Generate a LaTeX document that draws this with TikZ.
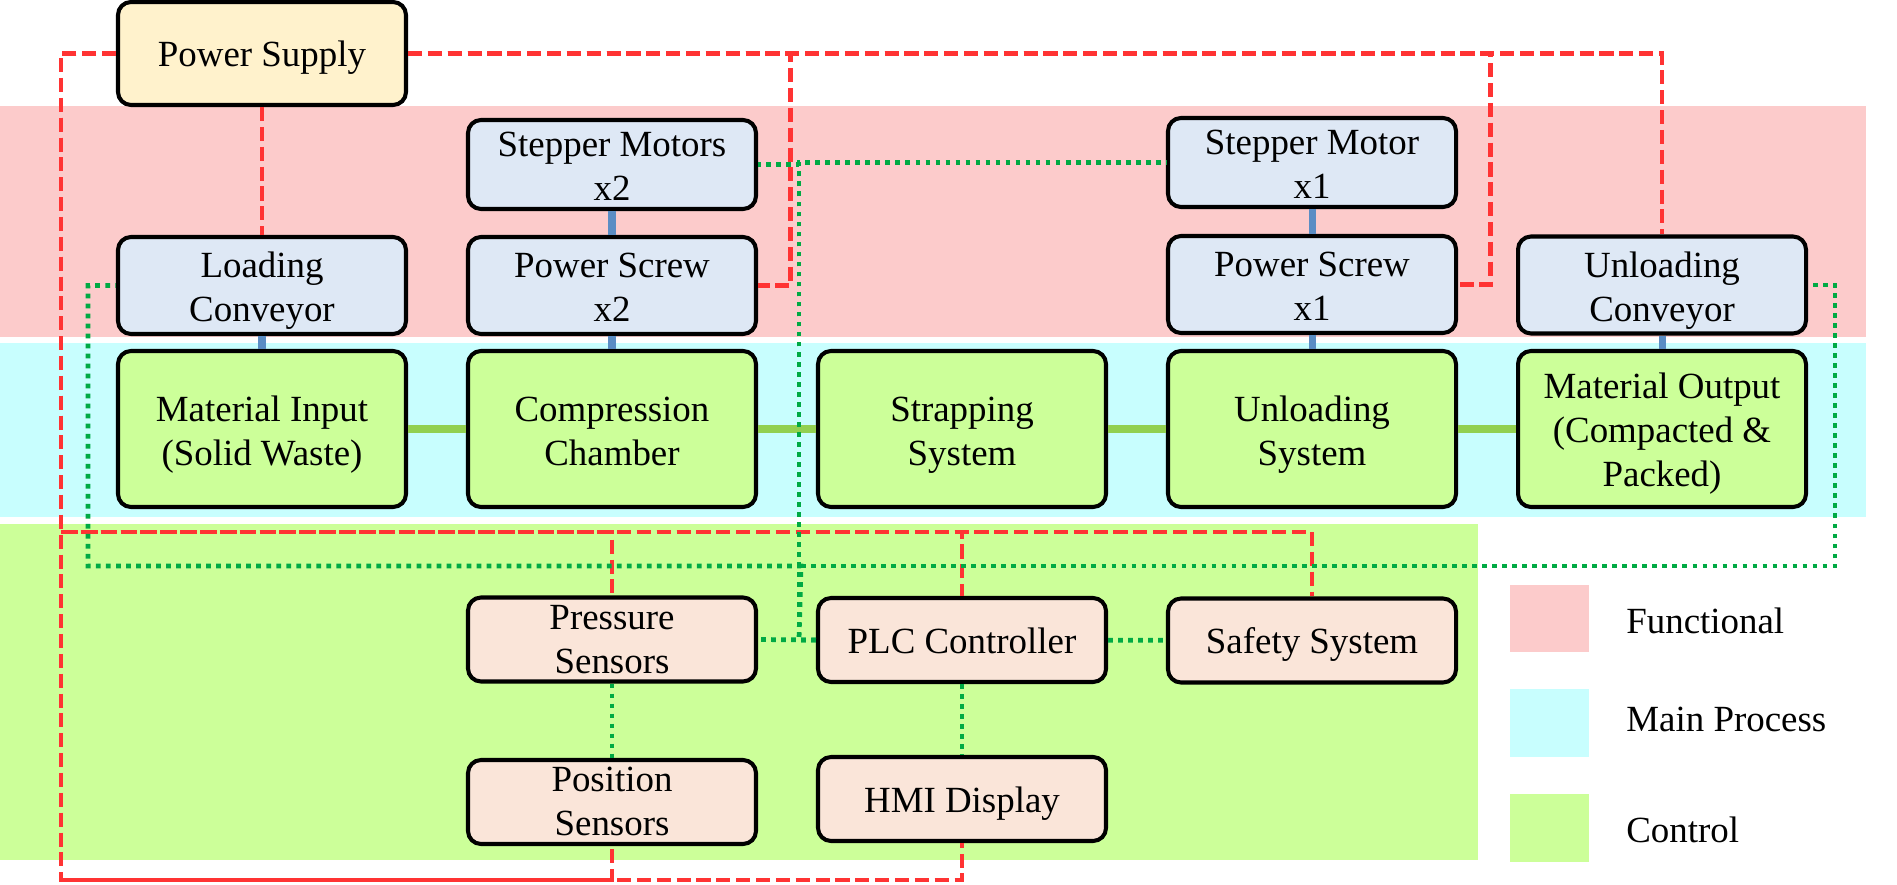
\documentclass[tikz,border=0pt]{standalone}
\usepackage{fontspec}
\setmainfont{Liberation Serif}
\usepackage{tikz}

\begin{document}
\begin{tikzpicture}
	[line cap=round,
	%Styles
	box/.style={rounded corners=0.26cm,draw=black,line width=2.3pt,align=center,inner sep=0pt,
		minimum width=5.76cm,font=\fontsize{21}{25}\selectfont,
		execute at begin node={\rule{0pt}{0.70cm}},
		execute at end node={\rule[-0.17cm]{0pt}{0pt}}},
	lines/.style={execute at begin node={\rule{0pt}{#1}}},
	lines/.default=1.61cm,
	supply box/.style={box,fill=supplyfill,minimum height=2.06cm},
	func box/.style={box,lines,fill=funcfill,minimum height=#1},
	main box/.style={box,lines,fill=mainfill,minimum height=3.12cm},
	ctrl box/.style={box,fill=ctrlfill,minimum height=1.68cm},
	legend text/.style={anchor=west,inner sep=0pt,font=\fontsize{21}{25}\selectfont},
	power line/.style={draw=powercolor,line width=2.7pt,line cap=butt,dash pattern=on 8pt off 3.3pt},
	signal line/.style={draw=signalcolor,line width=2.7pt,line cap=butt,dash pattern=on 2.7pt off 3pt},
	link line/.style={draw=linkcolor,line width=4pt,line cap=butt},
	flow line/.style={draw=flowcolor,line width=4.5pt,line cap=butt}
	]
	
	%Colors
	\definecolor{funcband}{HTML}{FCCBCB}
	\definecolor{mainband}{HTML}{C8FEFE}
	\definecolor{ctrlband}{HTML}{CCFF99}
	\definecolor{supplyfill}{HTML}{FFF2CC}
	\definecolor{funcfill}{HTML}{DEE8F5}
	\definecolor{mainfill}{HTML}{CCFF99}
	\definecolor{ctrlfill}{HTML}{FAE5D9}
	\definecolor{powercolor}{HTML}{FF3333}
	\definecolor{signalcolor}{HTML}{00AA44}
	\definecolor{linkcolor}{HTML}{5B8DC4}
	\definecolor{flowcolor}{HTML}{92D050}
	
	\useasboundingbox (0,0) rectangle (37.94,-17.70);
	
	%Bands
	\fill[funcband] (0,-2.12) rectangle (37.32,-6.74);
	\fill[mainband] (0,-6.86) rectangle (37.32,-10.34);
	\fill[ctrlband] (0,-10.48) rectangle (29.56,-17.20);
	
	%Legend
	\fill[funcband] (30.2,-11.7) rectangle (31.78,-13.04);
	\fill[mainband] (30.2,-13.78) rectangle (31.78,-15.14);
	\fill[ctrlband] (30.2,-15.88) rectangle (31.78,-17.24);
	\node[legend text] (legfunc) at (32.52,-12.41) {Functional};
	\node[legend text] (legmain) at (32.52,-14.38) {Main Process};
	\node[legend text] (legctrl) at (32.52,-16.60) {Control};
	
	%The graphic
	\node[supply box] (supply) at (5.24,-1.07) {Power Supply};
	
	\node[func box=1.72cm] (stepA) at (12.24,-3.29) {Stepper Motors\\x2};
	\node[func box=1.72cm] (stepB) at (26.24,-3.25) {Stepper Motor\\x1};
	\node[func box=1.94cm] (loadconv) at (5.24,-5.71) {Loading\\Conveyor};
	\node[func box=1.94cm] (screwA) at (12.24,-5.71) {Power Screw\\x2};
	\node[func box=1.94cm] (screwB) at (26.24,-5.69) {Power Screw\\x1};
	\node[func box=1.94cm] (unloadconv) at (33.24,-5.70) {Unloading\\Conveyor};
	
	\node[main box] (input) at (5.24,-8.58) {Material Input\\(Solid Waste)};
	\node[main box] (compress) at (12.24,-8.58) {Compression\\Chamber};
	\node[main box] (strap) at (19.24,-8.58) {Strapping\\System};
	\node[main box] (unloadsys) at (26.24,-8.58) {Unloading\\System};
	\node[main box,lines=2.46cm] (output) at (33.24,-8.58) {Material Output\\(Compacted \&\\Packed)};
	
	\node[ctrl box,lines=1.51cm] (pressens) at (12.24,-12.79) {Pressure\\Sensors};
	\node[ctrl box] (plc) at (19.24,-12.80) {PLC Controller};
	\node[ctrl box] (safety) at (26.24,-12.81) {Safety System};
	\node[ctrl box,lines=1.51cm] (possens) at (12.24,-16.04) {Position\\Sensors};
	\node[ctrl box] (hmi) at (19.24,-15.98) {HMI Display};
	
	\coordinate (railtop) at (1.22,-10.64);
	\coordinate (railbot) at (1.22,-17.60);
	\coordinate (hub) at (16.02,-11.32);
	
	%Mechanical links
	\path[link line]
		(stepA) edge (screwA)
		(screwA) edge (compress)
		(loadconv) edge (input)
		(stepB) edge (screwB)
		(screwB) edge (unloadsys)
		(unloadconv) edge (output);
	
	%Material flow
	\path[flow line]
		(input) edge (compress)
		(compress) edge (strap)
		(strap) edge (unloadsys)
		(unloadsys) edge (output);
	
	%Power
	\draw[power line] (supply) -- (loadconv);
	\draw[power line] (supply.east) -| ([xshift=0.65cm]screwA.east) -- (screwA.east);
	\draw[power line] (supply.east) -| ([xshift=0.65cm]screwB.east) -- (screwB.east);
	\draw[power line] (supply.east) -| (unloadconv.north);
	\draw[power line] (supply.west) -| (railtop) -| (pressens.north);
	\draw[power line] (railtop) -| (plc.north);
	\draw[power line] (railtop) -| (safety.north);
	\draw[power line] (supply.west) -| (railbot) -| (possens.south);
	\draw[power line] (railbot) -| (hmi.south);
	
	%Control signals
	\draw[signal line] (plc.west) -- ++(-0.34,0) |- (stepA.east);
	\draw[signal line] (plc.west) -- ++(-0.34,0) |- (stepB.west);
	\draw[signal line] (plc.west) -- (pressens.east);
	\draw[signal line] (plc.west) -- ++(-0.34,0) -- (hub) -| ([xshift=-0.56cm]loadconv.west) -- (loadconv.west);
	\draw[signal line] (hub) -| ([xshift=0.54cm]unloadconv.east) -- (unloadconv.east);
	\draw[signal line] (plc) -- (safety);
	\draw[signal line] (plc) -- (hmi);
	\draw[signal line] (pressens) -- (possens);
\end{tikzpicture}
\end{document}
